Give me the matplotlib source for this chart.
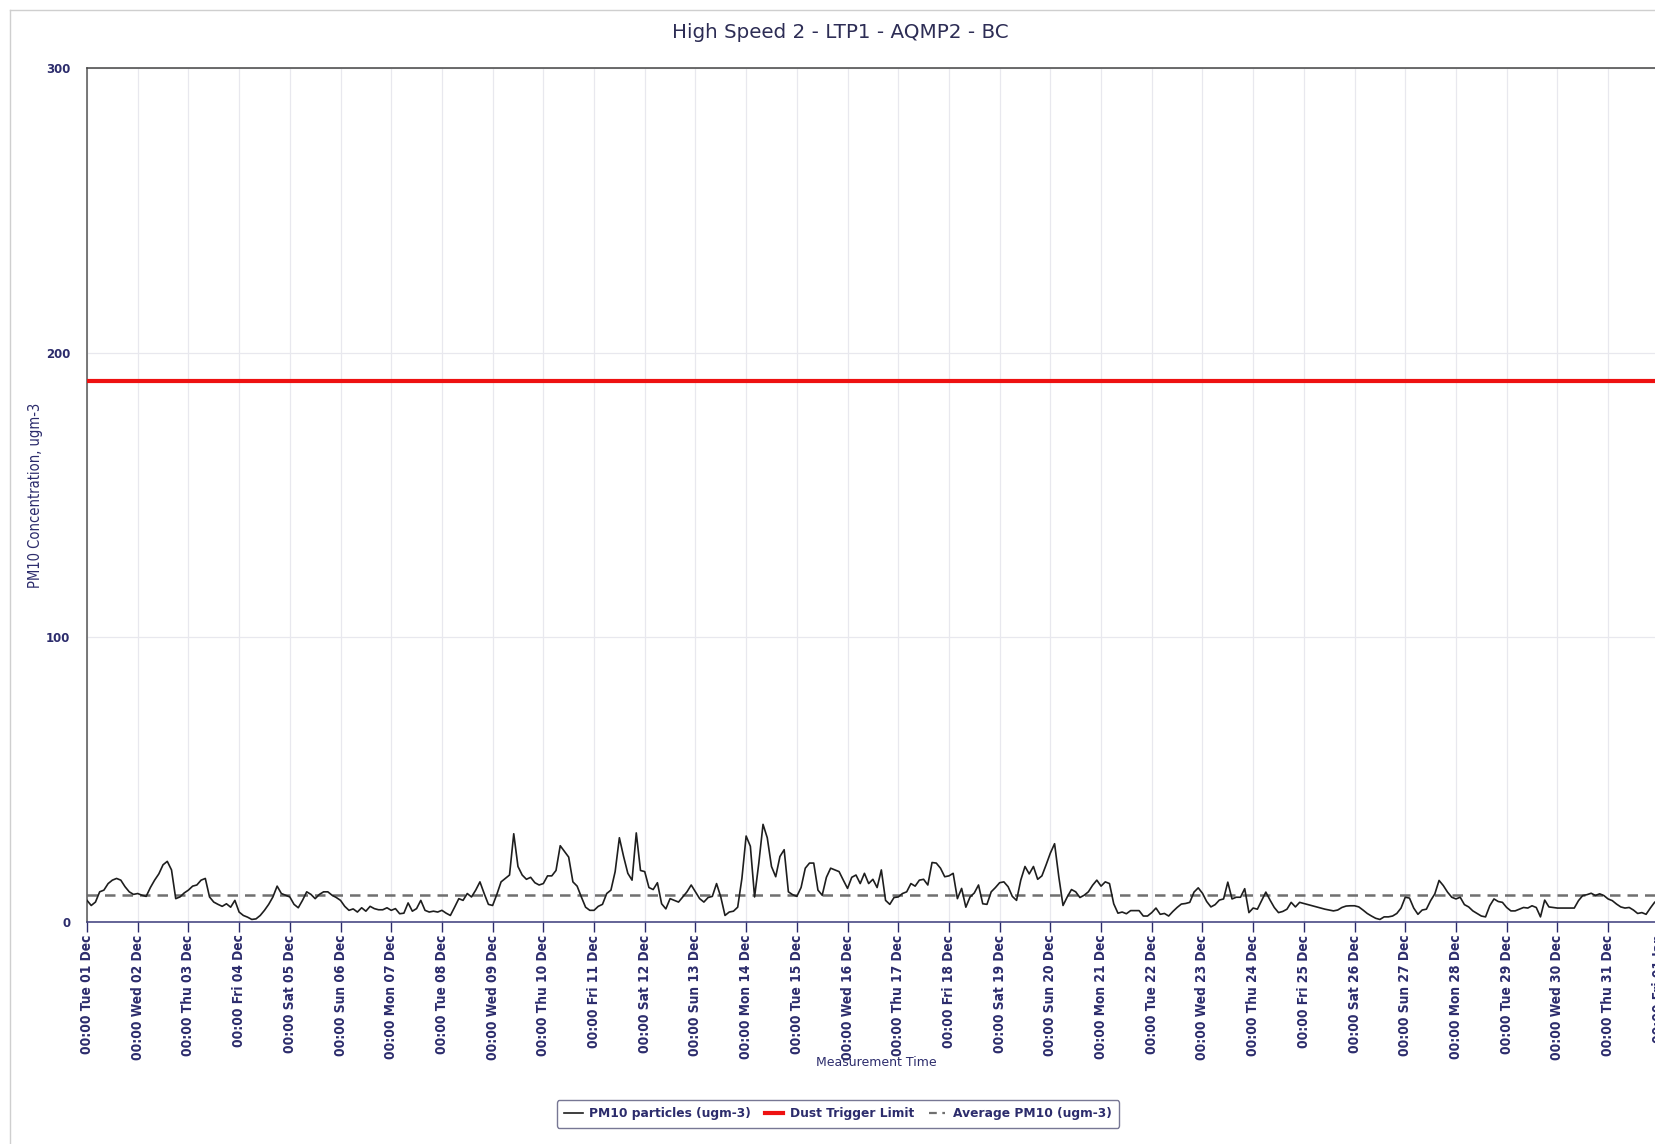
import matplotlib
matplotlib.use("Agg")
import matplotlib.pyplot as plt
import matplotlib.dates as mdates
import pandas as pd
from matplotlib.lines import Line2D

# ---------------- data ----------------
title = "High Speed 2 - LTP1 - AQMP2 - BC"
y_label = "PM10 Concentration, ugm-3"
x_label = "Measurement Time"
series_names = ["PM10 particles (ugm-3)", "Dust Trigger Limit", "Average PM10 (ugm-3)"]

start_time = "2020-12-01 00:00"
sample_step = "2h"

pm10_dec01 = [7.6, 5.8, 7.0, 10.6, 11.2, 13.5, 14.7, 15.3, 14.7, 12.4, 10.6, 9.7]
pm10_dec02 = [10.0, 9.4, 9.0, 12.1, 14.7, 16.9, 20.1, 21.3, 18.3, 8.2, 8.8, 10.2]
pm10_dec03 = [11.2, 12.6, 13.0, 14.7, 15.3, 8.8, 7.0, 6.2, 5.5, 6.4, 5.2, 7.6]
pm10_dec04 = [3.5, 2.3, 1.7, 0.9, 1.1, 2.3, 4.1, 6.2, 8.8, 12.6, 10.0, 9.4]
pm10_dec05 = [8.8, 6.2, 5.0, 7.6, 10.6, 9.7, 8.2, 9.7, 10.6, 10.6, 9.4, 8.6]
pm10_dec06 = [7.6, 5.5, 4.1, 4.6, 3.5, 5.0, 3.8, 5.5, 4.7, 4.3, 4.3, 5.0]
pm10_dec07 = [4.1, 4.7, 2.9, 3.1, 6.7, 3.8, 4.7, 7.6, 4.1, 3.5, 3.8, 3.5]
pm10_dec08 = [4.1, 3.1, 2.3, 5.2, 8.2, 7.6, 10.0, 8.8, 11.2, 14.1, 10.0, 6.2]
pm10_dec09 = [5.8, 9.7, 14.1, 15.3, 16.5, 31.0, 19.5, 16.5, 15.0, 15.7, 13.8, 13.0]
pm10_dec10 = [13.5, 16.2, 16.2, 18.1, 26.8, 24.8, 22.8, 14.1, 12.6, 8.8, 5.2, 4.1]
pm10_dec11 = [4.1, 5.5, 6.2, 10.0, 11.2, 17.7, 29.6, 23.0, 17.1, 14.7, 31.3, 18.1]
pm10_dec12 = [17.7, 12.1, 11.4, 13.8, 6.4, 4.6, 8.2, 7.6, 7.0, 8.8, 10.6, 13.0]
pm10_dec13 = [10.6, 8.2, 7.0, 8.6, 9.0, 13.5, 8.8, 2.3, 3.5, 3.8, 5.2, 15.3]
pm10_dec14 = [30.2, 26.6, 8.8, 20.7, 34.3, 29.6, 19.5, 15.9, 23.0, 25.4, 10.6, 9.6]
pm10_dec15 = [9.0, 12.1, 18.9, 20.7, 20.7, 11.2, 9.4, 15.7, 18.9, 18.3, 17.7, 14.7]
pm10_dec16 = [11.8, 15.7, 16.5, 13.5, 17.1, 13.5, 15.0, 12.1, 18.3, 7.6, 6.2, 8.6]
pm10_dec17 = [8.8, 10.0, 10.6, 13.5, 12.6, 14.7, 15.0, 13.0, 20.9, 20.7, 18.9, 15.9]
pm10_dec18 = [16.2, 17.1, 8.2, 11.8, 5.2, 8.8, 10.2, 13.0, 6.4, 6.2, 10.6, 12.1]
pm10_dec19 = [13.8, 14.1, 12.4, 9.0, 7.6, 14.7, 19.5, 16.9, 19.5, 15.0, 16.2, 20.1]
pm10_dec20 = [24.2, 27.5, 15.9, 5.8, 8.8, 11.4, 10.6, 8.6, 9.4, 10.6, 12.9, 14.7]
pm10_dec21 = [12.6, 14.1, 13.5, 6.4, 3.1, 3.5, 2.9, 4.0, 4.0, 4.0, 2.1, 2.1]
pm10_dec22 = [3.3, 4.9, 2.7, 3.0, 2.1, 3.7, 5.1, 6.3, 6.5, 6.9, 10.5, 12.0]
pm10_dec23 = [10.1, 7.2, 5.3, 6.1, 7.7, 8.1, 14.0, 8.1, 8.7, 8.7, 11.7, 3.3]
pm10_dec24 = [4.9, 4.5, 7.5, 10.5, 7.7, 5.1, 3.3, 3.7, 4.5, 6.9, 5.3, 6.9]
pm10_dec25 = [6.5, 6.1, 5.7, 5.3, 4.9, 4.5, 4.2, 3.9, 4.2, 5.1, 5.6, 5.7]
pm10_dec26 = [5.7, 5.3, 4.2, 3.0, 2.1, 1.3, 0.9, 1.8, 1.8, 2.1, 3.0, 4.9]
pm10_dec27 = [8.7, 8.4, 4.9, 2.7, 4.2, 4.5, 7.5, 9.9, 14.6, 12.8, 10.5, 8.7]
pm10_dec28 = [8.1, 8.7, 6.1, 5.3, 3.9, 3.0, 2.1, 1.8, 5.7, 8.1, 7.2, 6.9]
pm10_dec29 = [5.1, 3.9, 3.9, 4.5, 5.1, 4.9, 5.7, 5.1, 1.8, 7.7, 5.3, 5.1]
pm10_dec30 = [4.9, 4.9, 4.9, 4.9, 4.9, 7.5, 9.3, 9.6, 10.1, 9.3, 9.9, 9.3]
pm10_dec31 = [8.1, 7.5, 6.3, 5.3, 4.9, 5.1, 4.2, 3.0, 3.3, 2.7, 4.9, 6.9]
pm10_jan01 = [8.0]

dust_trigger_limit = 190
average_pm10 = 9.4
y_ticks = [0, 100, 200, 300]

pm10_values = (pm10_dec01 + pm10_dec02 + pm10_dec03 + pm10_dec04 + pm10_dec05 +
               pm10_dec06 + pm10_dec07 + pm10_dec08 + pm10_dec09 + pm10_dec10 +
               pm10_dec11 + pm10_dec12 + pm10_dec13 + pm10_dec14 + pm10_dec15 +
               pm10_dec16 + pm10_dec17 + pm10_dec18 + pm10_dec19 + pm10_dec20 +
               pm10_dec21 + pm10_dec22 + pm10_dec23 + pm10_dec24 + pm10_dec25 +
               pm10_dec26 + pm10_dec27 + pm10_dec28 + pm10_dec29 + pm10_dec30 +
               pm10_dec31 + pm10_jan01)
times = pd.date_range(start_time, periods=len(pm10_values), freq=sample_step)
x_start = pd.Timestamp("2020-12-01 00:00")
x_end = pd.Timestamp("2021-01-01 02:00")

# ---------------- styling ----------------
NAVY = "#2c2c6c"
TITLE_C = "#2d2d55"
W, H = 1656, 1144
left_px, right_px, top_px, bot_px = 87, 1663, 68, 922

fig = plt.figure(figsize=(W / 100, H / 100), dpi=100)
fig.patch.set_facecolor("white")
ax = fig.add_axes([left_px / W, 1 - bot_px / H, (right_px - left_px) / W, (bot_px - top_px) / H])

ax.plot(times, pm10_values, color="#1e1e1e", lw=1.2, zorder=3)
ax.axhline(dust_trigger_limit, color="#ee1111", lw=3.0, zorder=4)
ax.axhline(average_pm10, color="#707070", lw=1.8, ls=(0, (4.2, 2.8)), zorder=2)

ax.set_xlim(x_start, x_end)
ax.set_ylim(0, 300)
ax.set_yticks(y_ticks)
ax.xaxis.set_major_locator(mdates.DayLocator())
ax.xaxis.set_major_formatter(mdates.DateFormatter("%H:%M %a %d %b"))

ax.grid(True, color="#e8e8ee", lw=0.9, zorder=0)
ax.set_axisbelow(True)

for lbl in ax.get_xticklabels():
    lbl.set_rotation(90)
    lbl.set_fontweight("bold")
    lbl.set_fontstretch("condensed")
    lbl.set_color(NAVY)
    lbl.set_fontsize(9.8)
for lbl in ax.get_yticklabels():
    lbl.set_fontweight("bold")
    lbl.set_color(NAVY)
    lbl.set_fontsize(8.5)

ax.tick_params(axis="x", direction="out", length=7, width=1, color=NAVY, pad=2)
ax.tick_params(axis="y", length=0, pad=12)

ax.spines["top"].set_color("#444444")
ax.spines["left"].set_color("#555555")
ax.spines["bottom"].set_color("#3a3a7a")
ax.spines["right"].set_visible(False)
for s in ["top", "left", "bottom"]:
    ax.spines[s].set_linewidth(1.1)

fig.text(36 / W, 1 - 495 / H, y_label, rotation=90, ha="center", va="center",
         fontsize=10.5, color=NAVY, fontstretch="condensed")
fig.text(840 / W, 1 - 32 / H, title, ha="center", va="center", fontsize=14.3, color=TITLE_C)
fig.text(876 / W, 1 - 1062 / H, x_label, ha="center", va="center", fontsize=9, color=NAVY)

# figure frame (partially visible)
fig.add_artist(Line2D([10 / W, 10 / W], [0, 1 - 10 / H], transform=fig.transFigure, color="#cfcfcf", lw=1))
fig.add_artist(Line2D([10 / W, 1], [1 - 10 / H, 1 - 10 / H], transform=fig.transFigure, color="#cfcfcf", lw=1))

handles = [
    Line2D([], [], color="#1e1e1e", lw=1.2),
    Line2D([], [], color="#ee1111", lw=3.0),
    Line2D([], [], color="#707070", lw=1.6, ls=(0, (3.5, 2.5, 1.2, 2.5))),
]
leg = fig.legend(handles, series_names, loc="center", bbox_to_anchor=(838 / W, 1 - 1114 / H),
                 ncol=3, frameon=True, fancybox=True, edgecolor="#55557a", handlelength=1.5,
                 handletextpad=0.5, columnspacing=1.2, prop={"weight": "bold", "size": 8.8},
                 borderpad=0.6)
leg.get_frame().set_linewidth(1.0)
for t in leg.get_texts():
    t.set_color(NAVY)

fig.savefig("out.png", dpi=100)
